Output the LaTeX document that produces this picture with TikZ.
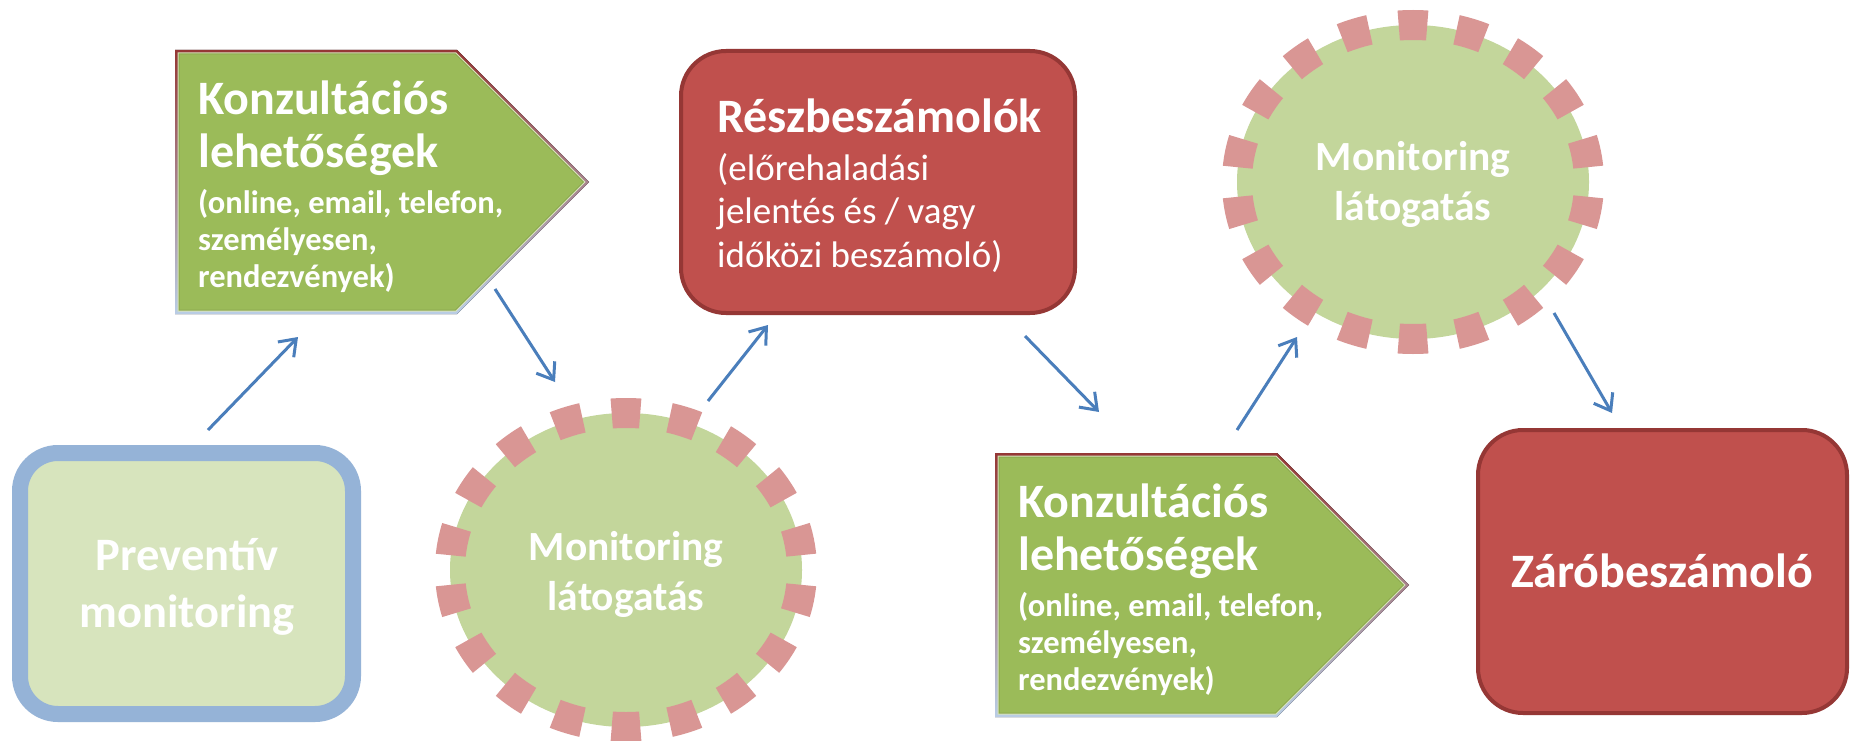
\documentclass[tikz,border=0pt]{standalone}
\usepackage{fontspec}
\setmainfont{Carlito}
\usetikzlibrary{arrows.meta}
\definecolor{prevfill}{HTML}{D7E4BD}
\definecolor{prevborder}{HTML}{95B3D7}
\definecolor{konzfill}{HTML}{9BBB59}
\definecolor{konzlight}{HTML}{D8E4BC}
\definecolor{konzdark}{HTML}{8CA84E}
\definecolor{konzbtop}{HTML}{953735}
\definecolor{konzbmid}{HTML}{A68AA0}
\definecolor{konzbbot}{HTML}{B9CDE5}
\definecolor{redfill}{HTML}{C0504D}
\definecolor{redborder}{HTML}{953735}
\definecolor{circfill}{HTML}{C3D69B}
\definecolor{dashcol}{HTML}{D99694}
\definecolor{arrowcol}{HTML}{4A7EBB}
\newcommand\linesC[1]{\vtop{\halign{\hfil##\hfil\cr#1\crcr}}}
\newcommand\linesL[1]{\vtop{\halign{##\hfil\cr#1\crcr}}}
\tikzset{
  wt/.style={text=white, inner sep=0pt},
  redbox/.style={draw=redborder, fill=redfill, line width=4pt, rounded corners=45pt},
  circfillst/.style={fill=circfill},
  circdash/.style={draw=dashcol, line width=30pt, dash pattern=on 28.5pt off 29.67pt, dash phase=43.33pt},
  conn/.style={draw=arrowcol, line width=3pt, -{Straight Barb[length=15pt,width=22pt]}},
}
\begin{document}
\begin{tikzpicture}[x=1pt,y=-1pt]
\useasboundingbox (0,0) rectangle (1852,741);
\fill[white] (0,0) rectangle (1852,741);

% Preventiv monitoring
\draw[draw=prevborder, fill=prevfill, line width=16pt, rounded corners=38pt] (20,453) rectangle (353,714);
\node[wt, font=\bfseries\fontsize{46.5}{57}\selectfont, anchor=base] (prev) at (187,570) {\linesC{Preventív\cr monitoring}};

% Konzultacios 1
\begin{scope}[shift={(175,50)}]
\fill[top color=konzbtop, middle color=konzbmid, bottom color=konzbbot] (0,0) -- (282,0) -- (414,132) -- (282,264) -- (0,264) -- cycle;
\fill[konzlight] (2.5,2.5) -- (281,2.5) -- (410.5,132) -- (281,261.5) -- (2.5,261.5) -- cycle;
\fill[konzdark] (3.5,3.5) -- (280.5,3.5) -- (409,132) -- (280.5,260.5) -- (3.5,260.5) -- cycle;
\fill[konzfill] (4.5,4.5) -- (280.1,4.5) -- (407.6,132) -- (280.1,259.5) -- (4.5,259.5) -- cycle;
\end{scope}
\node[wt, font=\bfseries\fontsize{48}{53}\selectfont, anchor=base west] (k1t) at (198,115) {\linesL{Konzultációs\cr lehetőségek}};
\node[wt, font=\bfseries\fontsize{32.5}{37}\selectfont, anchor=base west] (k1d) at (198,213) {\linesL{(online, email, telefon,\cr személyesen,\cr rendezvények)}};

% Monitoring 1
\fill[circfillst] (626,570) ellipse [x radius=176, y radius=157];
\draw[circdash] (626,570) ellipse [x radius=176, y radius=157];
\node[wt, font=\bfseries\fontsize{41.5}{50}\selectfont, anchor=base] (m1t) at (626,560) {\linesC{Monitoring\cr látogatás}};

% Reszbeszamolok
\draw[redbox] (681,51) rectangle (1075,313);
\node[wt, font=\bfseries\fontsize{48}{53}\selectfont, anchor=base west] (rt) at (717,132) {Részbeszámolók};
\node[wt, font=\fontsize{37}{43.5}\selectfont, anchor=base west] (rd) at (717,180) {\linesL{(előrehaladási\cr jelentés és / vagy\cr időközi beszámoló)}};

% Konzultacios 2
\begin{scope}[shift={(995,453)}]
\fill[top color=konzbtop, middle color=konzbmid, bottom color=konzbbot] (0,0) -- (282,0) -- (414,132) -- (282,264) -- (0,264) -- cycle;
\fill[konzlight] (2.5,2.5) -- (281,2.5) -- (410.5,132) -- (281,261.5) -- (2.5,261.5) -- cycle;
\fill[konzdark] (3.5,3.5) -- (280.5,3.5) -- (409,132) -- (280.5,260.5) -- (3.5,260.5) -- cycle;
\fill[konzfill] (4.5,4.5) -- (280.1,4.5) -- (407.6,132) -- (280.1,259.5) -- (4.5,259.5) -- cycle;
\end{scope}
\node[wt, font=\bfseries\fontsize{48}{53}\selectfont, anchor=base west] (k2t) at (1018,517) {\linesL{Konzultációs\cr lehetőségek}};
\node[wt, font=\bfseries\fontsize{32.5}{37}\selectfont, anchor=base west] (k2d) at (1018,616) {\linesL{(online, email, telefon,\cr személyesen,\cr rendezvények)}};

% Monitoring 2
\fill[circfillst] (1413,182) ellipse [x radius=176, y radius=157];
\draw[circdash] (1413,182) ellipse [x radius=176, y radius=157];
\node[wt, font=\bfseries\fontsize{41.5}{50}\selectfont, anchor=base] (m2t) at (1413,171) {\linesC{Monitoring\cr látogatás}};

% Zarobeszamolo
\draw[redbox] (1478,430) rectangle (1847,713);
\node[wt, font=\bfseries\fontsize{48}{55}\selectfont, anchor=base] (zt) at (1662,587) {Záróbeszámoló};

% connectors
\coordinate (a1s) at (208,430); \coordinate (a1e) at (298,337);
\coordinate (a2s) at (495,289); \coordinate (a2e) at (555,382);
\coordinate (a3s) at (708,401); \coordinate (a3e) at (768,325);
\coordinate (a4s) at (1025,336); \coordinate (a4e) at (1099,412);
\coordinate (a5s) at (1237,430); \coordinate (a5e) at (1297,337);
\coordinate (a6s) at (1554,313); \coordinate (a6e) at (1612,413);
\draw[conn] (a1s) -- (a1e);
\draw[conn] (a2s) -- (a2e);
\draw[conn] (a3s) -- (a3e);
\draw[conn] (a4s) -- (a4e);
\draw[conn] (a5s) -- (a5e);
\draw[conn] (a6s) -- (a6e);
\end{tikzpicture}
\end{document}
